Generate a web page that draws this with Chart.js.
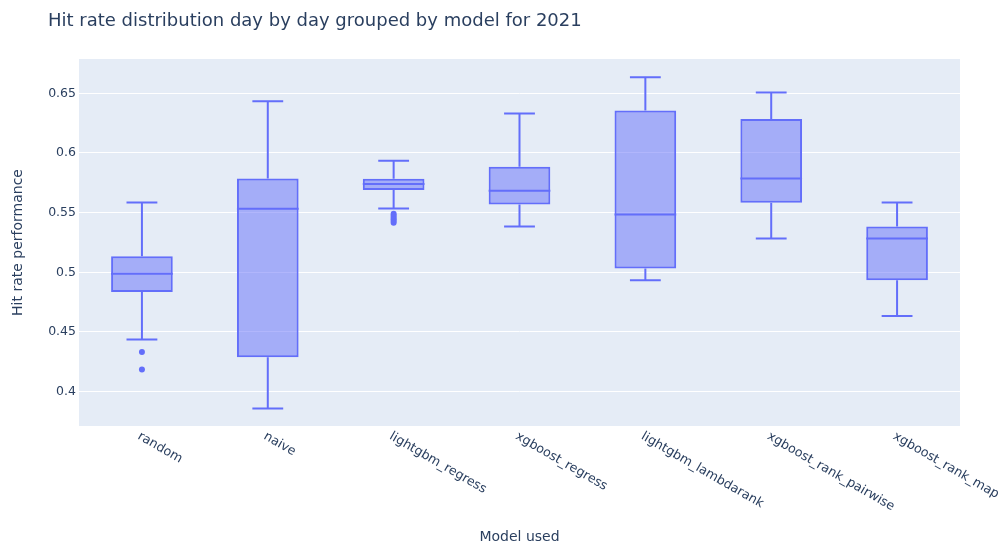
<!DOCTYPE html>
<html>
<head>
<meta charset="utf-8">
<script src="https://cdn.jsdelivr.net/npm/chart.js@4"></script>
<style>
  body { margin: 0; background: #fff; }
</style>
</head>
<body>
<canvas id="myChartBox" width="1005" height="545"></canvas>
<script>
// datos (hit rate diario por modelo, 2021)
var modelos = ['random', 'naive', 'lightgbm_regress', 'xgboost_regress', 'lightgbm_lambdarank', 'xgboost_rank_pairwise', 'xgboost_rank_map'];
var minimos  = [0.4436, 0.3857, 0.5535, 0.5384, 0.4933, 0.5283, 0.4634];
var q1       = [0.4835, 0.4288, 0.5689, 0.5569, 0.5032, 0.5582, 0.4933];
var medianas = [0.4987, 0.5532, 0.5739, 0.5683, 0.5485, 0.5787, 0.5283];
var q3       = [0.5135, 0.5787, 0.5783, 0.5884, 0.6357, 0.6284, 0.5384];
var maximos  = [0.5585, 0.6433, 0.5935, 0.6332, 0.6634, 0.6508, 0.5585];

var atipicosModelo = ['random', 'random', 'lightgbm_regress', 'lightgbm_regress', 'lightgbm_regress', 'lightgbm_regress', 'lightgbm_regress', 'lightgbm_regress'];
var atipicosValor  = [0.4332, 0.4184, 0.5490, 0.5475, 0.5460, 0.5445, 0.5430, 0.5415];

var yTicks = [0.4, 0.45, 0.5, 0.55, 0.6, 0.65];

var azul = '#636efa';
var textoColor = '#2a3f5f';
var fuente = "'DejaVu Sans', Verdana, sans-serif";

var cajas = modelos.map((m, i) => [q1[i], q3[i]]);
var atipicos = atipicosValor.map((v, i) => ({ x: atipicosModelo[i], y: v }));

// fondo del area del grafico
var fondoPlugin = {
    id: 'fondo',
    beforeDraw(chart) {
        var a = chart.chartArea;
        var c = chart.ctx;
        c.save();
        c.fillStyle = '#E5ECF6';
        c.fillRect(a.left, a.top, a.right - a.left, a.bottom - a.top);
        c.restore();
    }
};

// bigotes, medianas y textos
var cajaPlugin = {
    id: 'bigotes',
    afterDatasetsDraw(chart) {
        var c = chart.ctx;
        var xs = chart.scales.x;
        var ys = chart.scales.y;
        var meta = chart.getDatasetMeta(0);
        c.save();
        c.strokeStyle = azul;
        c.lineWidth = 2;
        modelos.forEach((m, i) => {
            var x = xs.getPixelForValue(i);
            var w = meta.data[i].width;
            var yMin = ys.getPixelForValue(minimos[i]);
            var yQ1 = ys.getPixelForValue(q1[i]);
            var yMed = ys.getPixelForValue(medianas[i]);
            var yQ3 = ys.getPixelForValue(q3[i]);
            var yMax = ys.getPixelForValue(maximos[i]);
            c.beginPath();
            c.moveTo(x, yQ3); c.lineTo(x, yMax);
            c.moveTo(x - w / 4, yMax); c.lineTo(x + w / 4, yMax);
            c.moveTo(x, yQ1); c.lineTo(x, yMin);
            c.moveTo(x - w / 4, yMin); c.lineTo(x + w / 4, yMin);
            c.moveTo(x - w / 2, yMed); c.lineTo(x + w / 2, yMed);
            c.stroke();
        });
        c.restore();
    },
    afterDraw(chart) {
        var c = chart.ctx;
        var a = chart.chartArea;
        var xs = chart.scales.x;
        c.save();
        c.fillStyle = textoColor;

        c.font = '18px ' + fuente;
        c.textAlign = 'left';
        c.textBaseline = 'middle';
        c.fillText('Hit rate distribution day by day grouped by model for 2021', 48, 21);

        c.font = '12.7px ' + fuente;
        c.textAlign = 'left';
        c.textBaseline = 'top';
        modelos.forEach((m, i) => {
            c.save();
            c.translate(xs.getPixelForValue(i), a.bottom + 4);
            c.rotate(Math.PI / 6);
            c.fillText(m, 0, 0);
            c.restore();
        });

        c.font = '14px ' + fuente;
        c.textAlign = 'center';
        c.textBaseline = 'middle';
        c.fillText('Model used', (a.left + a.right) / 2, 537);

        c.translate(18, (a.top + a.bottom) / 2);
        c.rotate(-Math.PI / 2);
        c.fillText('Hit rate performance', 0, 0);
        c.restore();
    }
};

var ctx = document.getElementById('myChartBox').getContext('2d');

var myChart = new Chart(ctx, {
    type: 'bar',
    data: {
        labels: modelos,
        datasets: [{
            label: 'cajas',
            data: cajas,
            backgroundColor: 'rgba(99, 110, 250, 0.5)',
            borderColor: azul,
            borderWidth: 2,
            borderSkipped: false,
            barPercentage: 0.49,
            categoryPercentage: 1,
            order: 2
        }, {
            type: 'line',
            label: 'atipicos',
            data: atipicos,
            showLine: false,
            pointRadius: 3,
            pointHoverRadius: 3,
            pointBackgroundColor: azul,
            pointBorderWidth: 0,
            borderColor: azul,
            order: 1
        }]
    },
    options: {
        responsive: false,
        animation: false,
        layout: {
            padding: { top: 59, right: 45, left: 0, bottom: 0 }
        },
        plugins: {
            legend: { display: false },
            tooltip: { enabled: false },
            title: { display: false }
        },
        scales: {
            x: {
                grid: { display: false },
                border: { display: false },
                ticks: { display: false },
                afterFit: s => { s.height = 119; }
            },
            y: {
                min: 0.3711,
                max: 0.6788,
                grid: { color: '#ffffff', lineWidth: 1, drawTicks: false },
                border: { display: false },
                ticks: {
                    padding: 3,
                    color: textoColor,
                    font: { family: fuente, size: 12.5 },
                    callback: v => String(Math.round(v * 100) / 100)
                },
                afterBuildTicks: s => { s.ticks = yTicks.map(v => ({ value: v })); },
                afterFit: s => { s.width = 79; }
            }
        }
    },
    plugins: [fondoPlugin, cajaPlugin]
});
</script>
</body>
</html>
